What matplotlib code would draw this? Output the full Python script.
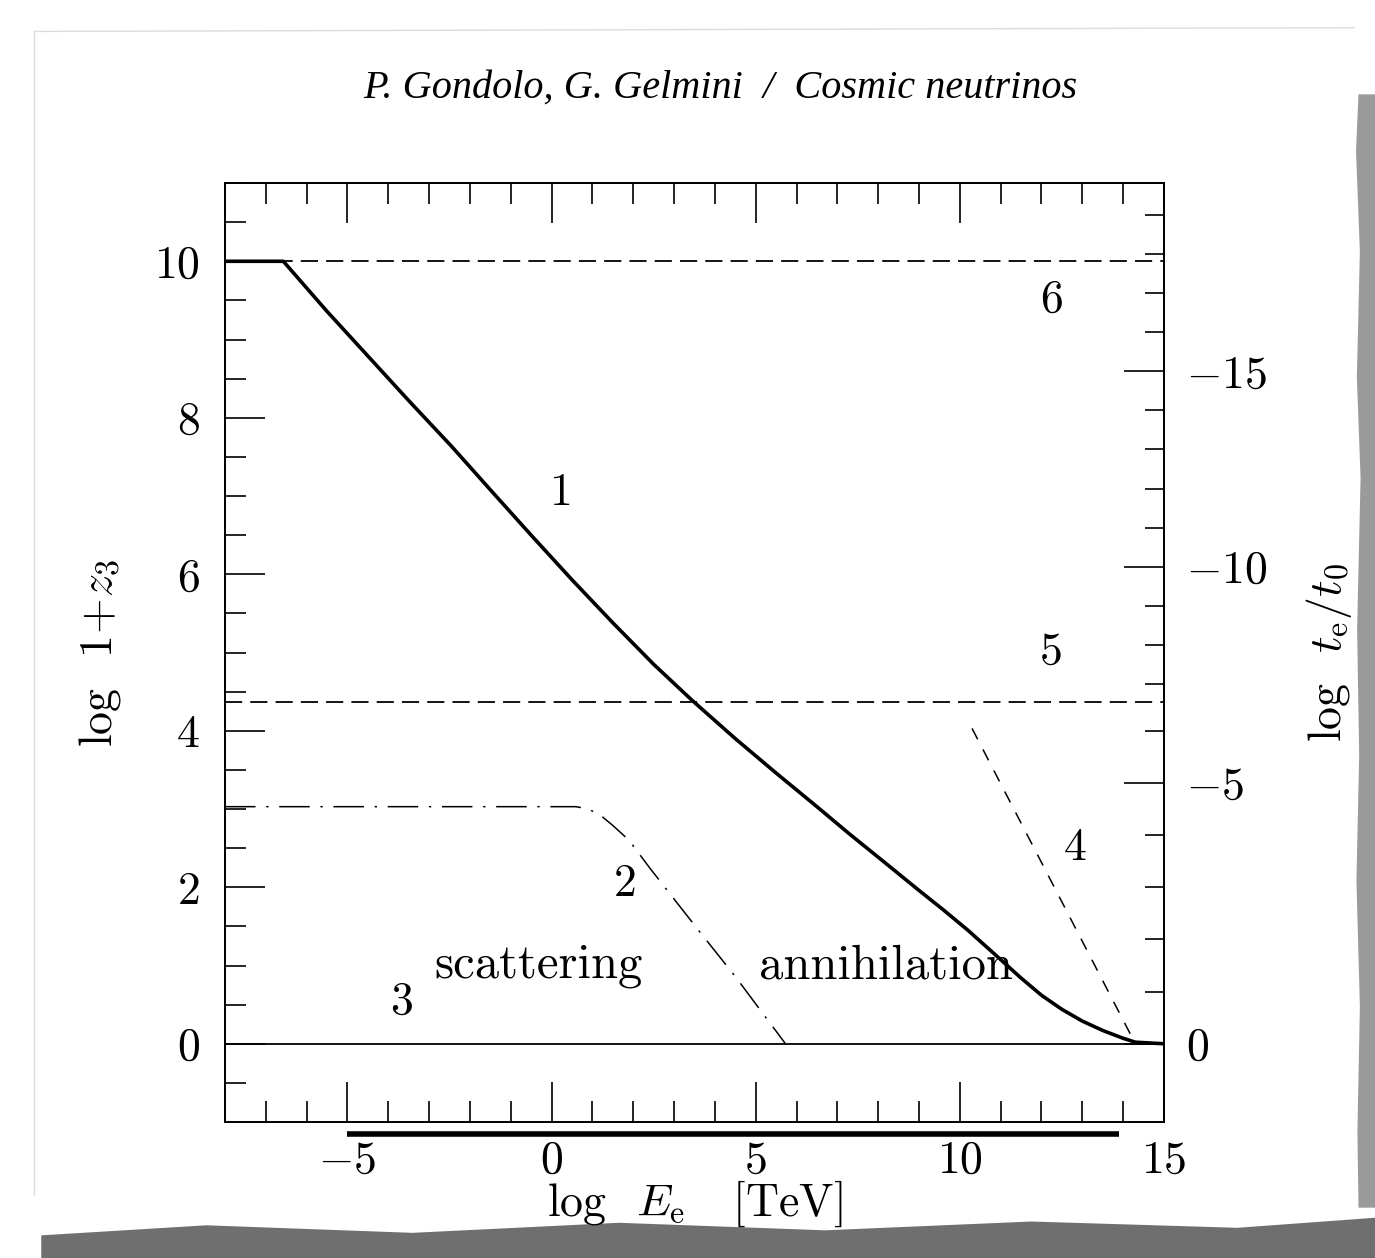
import numpy as np
import matplotlib.pyplot as plt
from matplotlib.ticker import FixedLocator, FixedFormatter, MultipleLocator
from matplotlib.patches import Polygon

plt.rcParams['font.family'] = 'cmr10'
plt.rcParams['mathtext.fontset'] = 'cm'

# --- curves: log E_e [TeV] vs log(1+z) ---
# 1: heavy solid
x1 = [-8.0, -6.57, -5.5, -4.5, -3.5, -2.44, -1.5, -0.5, 0.5, 1.5, 2.5, 3.44,
      4.5, 5.5, 6.5, 7.3, 8.2, 9.0, 9.6, 10.2, 10.8, 11.5, 12.0, 12.5, 13.0,
      13.5, 14.0, 14.3, 15.0]
y1 = [10.0, 10.0, 9.36, 8.79, 8.22, 7.63, 7.08, 6.50, 5.93, 5.38, 4.85, 4.39,
      3.90, 3.46, 3.03, 2.68, 2.30, 1.96, 1.71, 1.45, 1.17, 0.84, 0.62, 0.44, 0.29,
      0.17, 0.07, 0.02, 0.0]
# 2: dash-dot
x2 = [-8.0, 0.6, 0.9, 1.2, 1.5, 1.9, 2.4, 3.6, 4.5, 5.3, 5.73]
y2 = [3.03, 3.03, 3.0, 2.92, 2.79, 2.60, 2.25, 1.45, 0.86, 0.30, 0.0]
# 3: thin solid
x3 = [-8.0, 15.0]
y3 = [0.0, 0.0]
# 4: short dashes
x4 = [10.3, 14.3]
y4 = [4.03, 0.0]
# 5 and 6: horizontal dashed
x5 = [-8.0, 15.0]
y5 = [4.37, 4.37]
x6 = [-8.0, 15.0]
y6 = [10.0, 10.0]

curve_labels = ['1', '2', '3', '4', '5', '6']
label_x = [0.25, 1.81, -3.68, 12.82, 12.23, 12.24]
label_y = [7.04, 2.04, 0.54, 2.5, 5.01, 9.5]

region_labels = ['scattering', 'annihilation']
region_x = [-0.32, 8.19]
region_y = [1.0, 0.99]

x_ticks = [-5, 0, 5, 10, 15]
y_ticks = [0, 2, 4, 6, 8, 10]
t_major = [-15, -10, -5, 0]
t_minor = list(range(-19, 1))
bar_range = [-5.0, 13.9]

# matter/radiation equality, log(1+z_eq)
L_EQ = 4.38

FS = 33


def logz_from_logt(lt):
    """log(1+z) for a given log(t/t0), matter era then radiation era."""
    L = -lt / 1.5
    if L > L_EQ:
        L = L_EQ + (-lt - 1.5 * L_EQ) / 2.0
    return L


fig = plt.figure(figsize=(13.75, 12.58), dpi=100)
fig.patch.set_facecolor('white')

# paper shadow along the right and bottom edges
shadow_r = [(0.9880, 0.925), (0.9862, 0.88), (0.9890, 0.80), (0.9868, 0.70),
            (0.9895, 0.62), (0.9870, 0.50), (0.9885, 0.40), (0.9865, 0.30),
            (0.9890, 0.20), (0.9872, 0.10), (0.9880, 0.04), (1.0, 0.04), (1.0, 0.925)]
fig.add_artist(Polygon(shadow_r, closed=True, transform=fig.transFigure,
                       facecolor='#9a9a9a', edgecolor='none', zorder=0))
shadow_b = [(0.03, 0.0), (0.03, 0.018), (0.15, 0.026), (0.30, 0.020),
            (0.45, 0.028), (0.60, 0.022), (0.75, 0.029), (0.90, 0.024),
            (1.0, 0.032), (1.0, 0.0)]
fig.add_artist(Polygon(shadow_b, closed=True, transform=fig.transFigure,
                       facecolor='#6f6f6f', edgecolor='none', zorder=0))
fig.add_artist(plt.Line2D([0.025, 0.025], [0.05, 0.975], transform=fig.transFigure,
                          color='#dcdcdc', lw=1.0))
fig.add_artist(plt.Line2D([0.025, 0.985], [0.975, 0.978], transform=fig.transFigure,
                          color='#dcdcdc', lw=1.0))

fig.text(0.524, 0.930, 'P. Gondolo, G. Gelmini  /  Cosmic neutrinos',
         family='Liberation Serif', style='italic', fontsize=29,
         ha='center', va='center')

ax = fig.add_axes([0.1636, 0.1081, 0.6829, 0.7464])
ax.set_xlim(-8, 15)
ax.set_ylim(-1, 11)

ax.plot(x1, y1, color='black', lw=2.6, solid_joinstyle='round')
ax.plot(x2, y2, color='black', lw=1.1, dashes=(20, 7, 1.5, 7))
ax.plot(x3, y3, color='black', lw=1.3)
ax.plot(x4, y4, color='black', lw=1.1, dashes=(8, 7.5))
ax.plot(x5, y5, color='black', lw=1.3, dashes=(9.5, 4.5))
ax.plot(x6, y6, color='black', lw=1.3, dashes=(9.5, 4.5))

for s, lx, ly in zip(curve_labels, label_x, label_y):
    ax.text(lx, ly, s, fontsize=FS, ha='center', va='center')
for s, lx, ly in zip(region_labels, region_x, region_y):
    ax.text(lx, ly, s, fontsize=FS + 2, ha='center', va='center')

# thick rule under the energy axis
ax.plot(bar_range, [-1.15, -1.15], color='black', lw=4.0, clip_on=False,
        solid_capstyle='butt')

for sp in ax.spines.values():
    sp.set_linewidth(1.3)

ax.xaxis.set_major_locator(FixedLocator(x_ticks))
ax.xaxis.set_major_formatter(FixedFormatter([r'$%d$' % v for v in x_ticks]))
ax.xaxis.set_minor_locator(MultipleLocator(1))
ax.yaxis.set_major_locator(FixedLocator(y_ticks))
ax.yaxis.set_major_formatter(FixedFormatter([r'$%d$' % v for v in y_ticks]))
ax.yaxis.set_minor_locator(MultipleLocator(0.5))
ax.tick_params(which='both', direction='in', top=True, right=False, width=1.2,
               labelsize=FS)
ax.tick_params(which='major', length=29)
ax.tick_params(which='minor', length=15)
ax.tick_params(axis='x', pad=13)
ax.tick_params(axis='y', pad=18)

ax2 = ax.twinx()
ax2.set_ylim(-1, 11)
ax2.yaxis.set_major_locator(FixedLocator([logz_from_logt(v) for v in t_major]))
ax2.yaxis.set_major_formatter(FixedFormatter([r'$%d$' % v for v in t_major]))
ax2.yaxis.set_minor_locator(FixedLocator([logz_from_logt(v) for v in t_minor]))
ax2.tick_params(which='both', direction='in', width=1.2, labelsize=FS, pad=16)
ax2.tick_params(which='major', length=29)
ax2.tick_params(which='minor', length=14)
for sp in ax2.spines.values():
    sp.set_linewidth(1.3)

ax.set_xlabel(r'log  $E_{\rm e}$   [TeV]', fontsize=FS, labelpad=-2)
ax.set_ylabel(r'log  $1\!+\!z_{3}$', fontsize=FS, labelpad=22)
ax2.set_ylabel(r'log  $t_{\rm e}/t_0$', fontsize=FS, labelpad=26)

fig.savefig('out.png', dpi=100)
